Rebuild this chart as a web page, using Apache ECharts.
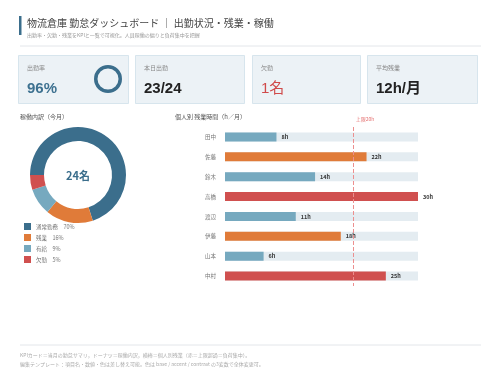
<!DOCTYPE html>
<html>
<head>
<meta charset="utf-8">
<script src="https://cdn.jsdelivr.net/npm/echarts@6/dist/echarts.min.js"></script>
<style>
  html, body { margin: 0; padding: 0; background: #fff; }
  #main { width: 500px; height: 375px; }
</style>
</head>
<body>
<div id="main"></div>
<script>
// 稼働内訳（今月）
var mixNames = ['通常勤務', '残業', '有給', '欠勤'];
var mixValues = [70, 16, 9, 5];
var mixColors = ['#3b6e8c', '#e07b39', '#76a9bf', '#d0504f'];

// 個人別 残業時間
var staffNames = ['田中', '佐藤', '鈴木', '高橋', '渡辺', '伊藤', '山本', '中村'];
var overtimeHours = [8, 22, 14, 30, 11, 18, 6, 25];
var overtimeMax = 30;
var overtimeLimit = 20;

// KPI
var kpiLabels = ['出勤率', '本日出勤', '欠勤', '平均残業'];
var kpiValues = ['96%', '23/24', '1名', '12h/月'];
var kpiColors = ['#3d7190', '#222', '#d04a4a', '#222'];
var attendRate = 96;

var FONT = '"Noto Sans CJK JP", "Noto Sans", sans-serif';
var NUMFONT = '"Liberation Sans", "Noto Sans CJK JP", sans-serif';

function barColor(v) {
  if (v >= 25) return '#d0504f';
  if (v >= 15) return '#e07b39';
  return '#76a9bf';
}

var myChart = echarts.init(document.getElementById('main'));

// KPIカード
var cardX = [18, 135, 252, 367];
var cardW = [110, 109, 108, 110];
var cards = [];
for (var i = 0; i < kpiLabels.length; i++) {
  cards.push({
    type: 'rect', left: cardX[i], top: 55, z: 0,
    shape: { width: cardW[i], height: 48 },
    style: { fill: '#ecf2f6', stroke: '#d7e5ed', lineWidth: 1 }
  });
  cards.push({
    type: 'text', left: cardX[i] + 9, top: 65, z: 1,
    style: { text: kpiLabels[i], font: '6px ' + FONT, fill: '#888' }
  });
  cards.push({
    type: 'text', left: cardX[i] + 9, top: 81, z: 1,
    style: { text: kpiValues[i], font: (i == 2 ? 'normal' : 'bold') + ' 15px ' + NUMFONT, fill: kpiColors[i] }
  });
}

var option = {
  textStyle: { fontFamily: FONT },
  graphic: [
    { type: 'rect', left: 19, top: 16, shape: { width: 2.5, height: 19 }, style: { fill: '#3b6e8c' } },
    { type: 'text', left: 27, top: 18, style: { text: '物流倉庫 勤怠ダッシュボード ｜ 出勤状況・残業・稼働', font: '10px ' + FONT, fill: '#444' } },
    { type: 'text', left: 27, top: 33, style: { text: '出勤率・欠勤・残業をKPIと一覧で可視化。人員稼働の偏りと負荷集中を把握', font: '5px ' + FONT, fill: '#999' } },
    { type: 'line', shape: { x1: 20, y1: 46, x2: 481, y2: 46 }, style: { stroke: '#e3e6ea', lineWidth: 1 } },
    { type: 'text', left: 20, top: 114, style: { text: '稼働内訳（今月）', font: '6px ' + FONT, fill: '#555' } },
    { type: 'text', left: 175, top: 114, style: { text: '個人別 残業時間（h／月）', font: '6px ' + FONT, fill: '#555' } },
    { type: 'text', x: 78, y: 176, style: { text: '24名', font: 'bold 11px ' + FONT, fill: '#3b6e8c', align: 'center', verticalAlign: 'middle' } },
    { type: 'line', shape: { x1: 20, y1: 345, x2: 481, y2: 345 }, style: { stroke: '#e3e6ea', lineWidth: 1 } },
    { type: 'text', left: 20, top: 353, style: { text: 'KPIカード＝当月の勤怠サマリ，ドーナツ＝稼働内訳，横棒＝個人別残業（赤＝上限超過＝負荷集中）。', font: '5px ' + FONT, fill: '#aaa' } },
    { type: 'text', left: 20, top: 362, style: { text: '編集テンプレート：項目名・数値・色は差し替え可能。色は base / accent / contrast の3変数で全体変更可。', font: '5px ' + FONT, fill: '#aaa' } }
  ].concat(cards),
  legend: {
    orient: 'vertical',
    left: 19,
    top: 218,
    itemWidth: 7,
    itemHeight: 7,
    itemGap: 4,
    icon: 'rect',
    data: mixNames,
    textStyle: { fontSize: 5.5, color: '#777', fontFamily: FONT },
    formatter: function (name) {
      var idx = mixNames.indexOf(name);
      return name + '　' + mixValues[idx] + '%';
    }
  },
  grid: { left: 225, top: 127, width: 193, height: 159 },
  xAxis: {
    type: 'value', min: 0, max: overtimeMax,
    show: false
  },
  yAxis: {
    type: 'category', inverse: true,
    data: staffNames,
    axisLine: { show: false },
    axisTick: { show: false },
    axisLabel: { fontSize: 5.5, color: '#777', margin: 9 }
  },
  series: [
    {
      type: 'pie',
      center: [108, 79],
      radius: [10.5, 14],
      silent: true,
      z: 5,
      label: { show: false },
      data: [
        { value: attendRate, itemStyle: { color: '#3b6e8c' } }
      ]
    },
    {
      name: '稼働内訳',
      type: 'pie',
      center: [78, 175],
      radius: [34, 48],
      startAngle: 180,
      label: { show: false },
      data: mixNames.map(function (n, i) {
        return { name: n, value: mixValues[i], itemStyle: { color: mixColors[i] } };
      })
    },
    {
      type: 'bar',
      silent: true,
      barWidth: 9,
      barGap: '-100%',
      itemStyle: { color: '#e4ecf1' },
      data: staffNames.map(function () { return overtimeMax; })
    },
    {
      type: 'bar',
      barWidth: 9,
      data: overtimeHours.map(function (v) {
        return { value: v, itemStyle: { color: barColor(v) } };
      }),
      label: {
        show: true, position: 'right', distance: 5,
        formatter: '{c}h', fontSize: 5.5, fontWeight: 'bold', color: '#333'
      },
      markLine: {
        silent: true,
        symbol: 'none',
        lineStyle: { color: '#ec8f8f', type: 'dashed', width: 1 },
        label: { formatter: '上限20h', fontSize: 5, color: '#e57373', position: 'start', align: 'left', padding: [0, 0, 0, 2] },
        data: [{ xAxis: overtimeLimit }]
      }
    }
  ]
};

myChart.setOption(option);
window.addEventListener('resize', function () {
  myChart.resize();
});
</script>
</body>
</html>
